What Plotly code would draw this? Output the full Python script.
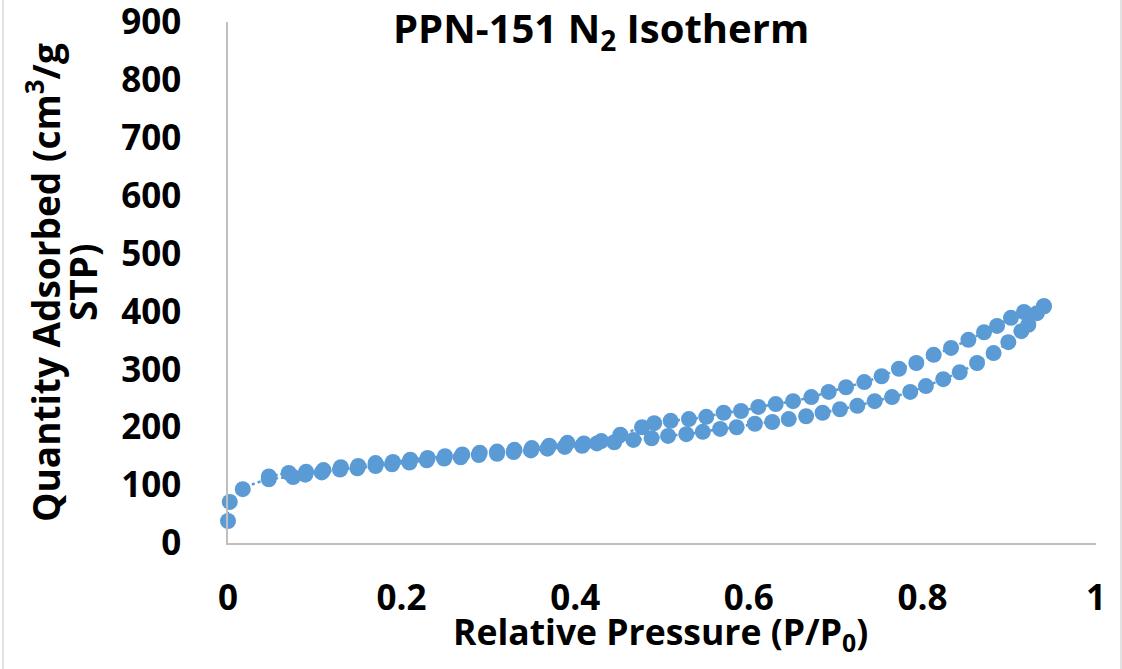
import plotly.graph_objects as go

# Adsorption branch (relative pressure, quantity adsorbed)
ads_p = [0.000, 0.002, 0.017, 0.047, 0.075, 0.089, 0.108, 0.129, 0.149, 0.170, 0.189, 0.209,
         0.229, 0.249, 0.268, 0.289, 0.310, 0.329, 0.349, 0.368, 0.388, 0.408, 0.425, 0.445,
         0.467, 0.488, 0.507, 0.528, 0.547, 0.567, 0.586, 0.607, 0.627, 0.646, 0.666, 0.685,
         0.705, 0.725, 0.745, 0.765, 0.786, 0.804, 0.824, 0.843, 0.863, 0.882, 0.899, 0.914,
         0.922, 0.932, 0.940]
ads_q = [38, 71, 93, 110, 114, 118, 122, 127, 129, 133, 136, 139,
         143, 146, 148, 152, 154, 157, 160, 163, 166, 168, 172, 174,
         178, 181, 185, 188, 192, 197, 200, 206, 209, 214, 219, 225,
         231, 237, 245, 252, 261, 271, 283, 295, 311, 328, 347, 366,
         377, 397, 409]

# Desorption branch
des_p = [0.940, 0.917, 0.902, 0.886, 0.871, 0.853, 0.833, 0.813, 0.793, 0.773, 0.753, 0.733,
         0.712, 0.692, 0.672, 0.651, 0.631, 0.611, 0.591, 0.571, 0.551, 0.531, 0.510, 0.491,
         0.477, 0.452, 0.430, 0.410, 0.391, 0.370, 0.350, 0.330, 0.310, 0.290, 0.270, 0.250,
         0.230, 0.210, 0.190, 0.170, 0.150, 0.130, 0.110, 0.090, 0.070, 0.047]
des_q = [409, 399, 389, 375, 364, 351, 337, 325, 311, 301, 288, 278,
         269, 261, 252, 245, 240, 235, 228, 225, 218, 214, 211, 207,
         200, 187, 176, 172, 173, 168, 164, 161, 158, 156, 153, 150,
         147, 144, 140, 138, 133, 131, 126, 123, 121, 115]

x_ticks = [0, 0.2, 0.4, 0.6, 0.8, 1]
x_tick_text = ["0", "0.2", "0.4", "0.6", "0.8", "1"]
y_ticks = [0, 100, 200, 300, 400, 500, 600, 700, 800, 900]

blue = "#5B9BD5"
font_family = "Open Sans"

fig = go.Figure()
for px_, q_ in [(ads_p, ads_q), (des_p, des_q)]:
    fig.add_trace(go.Scatter(
        x=px_, y=q_, mode="lines+markers",
        line=dict(color=blue, width=2.5, dash="dot", shape="spline"),
        marker=dict(color=blue, size=16),
        cliponaxis=False, showlegend=False,
    ))

axis_common = dict(
    showgrid=False, zeroline=False, showline=True,
    linecolor="#BFBFBF", linewidth=1.5, ticks="",
    ticklabeloverflow="allow",
    tickfont=dict(family=font_family, size=35, color="black", weight="bold"),
)

fig.update_layout(
    width=1122, height=669,
    margin=dict(l=228, r=26, t=22, b=126, autoexpand=False),
    paper_bgcolor="white", plot_bgcolor="white",
    xaxis=dict(range=[0, 1], tickvals=x_ticks, ticktext=x_tick_text,
               ticklabelstandoff=23, **axis_common),
    yaxis=dict(range=[0, 900], tickvals=y_ticks, ticklabelstandoff=38,
               **axis_common),
    annotations=[
        dict(text="<b>PPN-151 N<sub>2</sub> Isotherm</b>", xref="paper", yref="paper",
             x=0.43, y=0.985, xanchor="center", yanchor="middle", showarrow=False,
             font=dict(family=font_family, size=40, color="black")),
        dict(text="<b>Relative Pressure (P/P<sub>0</sub>)</b>", xref="paper", yref="paper",
             x=0.498, y=-0.172, xanchor="center", yanchor="middle", showarrow=False,
             font=dict(family=font_family, size=35.5, color="black")),
        dict(text="<b>Quantity Adsorbed (cm<sup>3</sup>/g</b>", xref="paper", yref="paper",
             x=-0.212, y=0.501, xanchor="center", yanchor="middle", showarrow=False,
             textangle=-90,
             font=dict(family=font_family, size=37, color="black")),
        dict(text="<b>STP)</b>", xref="paper", yref="paper",
             x=-0.167, y=0.501, xanchor="center", yanchor="middle", showarrow=False,
             textangle=-90,
             font=dict(family=font_family, size=37, color="black")),
    ],
    shapes=[
        dict(type="line", xref="paper", yref="paper", x0=-0.2592, x1=-0.2592,
             y0=-0.25, y1=1.05, line=dict(color="#D9D9D9", width=1.5)),
        dict(type="line", xref="paper", yref="paper", x0=1.0288, x1=1.0288,
             y0=-0.25, y1=1.05, line=dict(color="#D9D9D9", width=1.5)),
    ],
)

fig.write_html("out.html")
